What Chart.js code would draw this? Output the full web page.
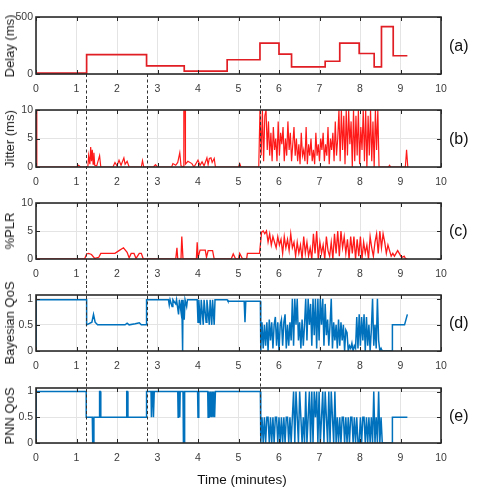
<!DOCTYPE html>
<html><head><meta charset="utf-8">
<script src="https://cdn.jsdelivr.net/npm/chart.js@4.4.1/dist/chart.umd.min.js"></script>
<style>
html,body{margin:0;padding:0;background:#fff;width:478px;height:488px;overflow:hidden;}
#wrap{position:relative;width:478px;height:488px;}
.lab{position:absolute;font-family:"Liberation Sans",Arial,sans-serif;color:#111;white-space:nowrap;}
.ytl{position:absolute;left:10px;font-family:"Liberation Sans",Arial,sans-serif;color:#1a1a1a;white-space:nowrap;font-size:13px;line-height:14px;transform:translate(-50%,-50%) rotate(-90deg);}
</style></head><body><div id="wrap"></div>
<script>
// ---------------- DATA ----------------
const xTicks=[0,1,2,3,4,5,6,7,8,9,10];
const eventTimes=[1.24,2.73,5.54];
const panelLabels=['(a)','(b)','(c)','(d)','(e)'];
const yTitles=['Delay (ms)','Jitter (ms)','%PLR','Bayesian QoS','PNN QoS'];
const xTitle='Time (minutes)';
const delayTicks=[0,500], jitterTicks=[0,5,10], plrTicks=[0,5,10], qosTicks=[0,0.5,1];

// (a) Delay, step values (each holds until next time)
const delayT=[0,1.25,2.73,3.66,4.72,5.53,6.0,6.31,7.14,7.5,7.98,8.35,8.53,8.82,9.17];
const delayV=[8,170,72,25,125,270,175,62,112,270,180,62,415,160,160];

// (b) Jitter
const jitterT=[0,0.02,1.0,1.05,1.1,1.28,1.3,1.33,1.35,1.37,1.39,1.41,1.43,1.45,1.5,1.57,1.6,1.9,1.95,2.0,2.05,2.1,2.17,2.2,2.25,2.3,2.6,2.63,2.66,2.9,2.95,3.0,3.35,3.38,3.45,3.5,3.55,3.58,3.64,3.65,3.68,3.69,3.75,3.85,3.9,4.0,4.05,4.1,4.15,4.22,4.25,4.28,4.32,4.35,4.4,4.43,5.0,5.03,5.06,5.5];
const jitterV=[10,0,0,0.3,0,0,2,0.5,3.5,1,3,0.5,2.5,0.3,0.2,2,0,0,0.8,0.2,1.2,0.3,1.6,0.5,1,0,0,1.1,0,0,0.4,0,0,0.6,0.3,0.8,2.5,0.2,0,10,10,0.5,1,0.6,0,1.2,0.3,0.9,0.2,1.6,0.4,1.5,1.6,0.8,1.5,0,0,0.6,0,0];
const jitterBurstStart=5.53, jitterBurstStep=0.03;
const jitterBurst=[10,2,10,1,9,10,3,
 8,2,6,1,7,3,5,1,8,2,6,4,7,1,5,2,8,3,6,1,4,7,2,
 5,1,4,0.5,6,2,3,1,7,0.5,4,2,5,1,3,0.5,6,2,4,1,5,3,6,1,4,2,7,0.5,5,3,6,1,8,2,5,
 10,1,10,3,9,0.5,10,2,10,4,8,0,10,1,9,2,10,0.5,7,3,10,1,10,0,9,2,10,1,8,0,10,3,10,0];
const jitterTailT=[8.5,8.7,8.73,8.76,9.12,9.15,9.18,9.2];
const jitterTailV=[0,0,0.3,0,0,3,0,0];

// (c) %PLR
const plrT=[0,1.2,1.25,1.3,1.37,1.45,1.55,1.6,1.95,2.05,2.16,2.25,2.3,2.35,2.42,2.47,2.55,2.6,2.65,3.45,3.48,3.5,3.58,3.6,3.63,3.96,3.98,4.0,4.05,4.18,4.21,4.25,4.36,4.4,4.82,4.87,4.93,5.0,5.03,5.1,5.2,5.22,5.52];
const plrV=[0,0,0.9,1,0.8,0.1,0.3,1,1,1.5,2,1.2,0.2,1,1,0.1,1,1,0,0,2,0,0,4,0,0,3,0.2,1.6,1.6,0.3,1.5,1.5,0,0,0.9,0,0,1,0,0,1,1];
const plrBurstStart=5.53, plrBurstStep=0.04;
const plrBurst=[1,4.8,5,4.5,5,
 3,4.5,2.5,4,3,2,4,2.5,3.5,1,4,2,3.5,1.5,4.5,2,3,
 0.5,3,1,2.5,0,4,1,3,0.5,2,0,4.5,1,5,0,3,
 1,2.5,0,4,1.5,0.5,3,0,4.5,1,5,0.5,5,2,4,1,
 3.5,0,4,1,4,0,3.5,0.5,4,0,3,1,2.5,0,4,2,
 0.5,3,4.5,1,5,2,4.5,3,1,2.5,1.5,0.5,1,0.5,1,1.5,
 1,0.5,0.3,0.5,0];
const plrTailT=[9.17], plrTailV=[0];

// (d) Bayesian QoS
const bayesT=[0,0.005,1.25,1.25,1.38,1.42,1.46,1.52,2.2,2.25,2.3,2.45,2.55,2.6,2.73,2.73,3.27,3.29,3.31,3.36,3.38,3.45,3.47,3.52,3.54,3.58,3.6,3.62,3.63,3.66,3.68,3.72,3.74,3.98,4.0,4.02,4.06,4.08,4.13,4.15,4.2,4.22,4.28,4.3,4.34,4.36,4.4,4.42,4.72,4.74,5.14,5.16,5.18,5.54];
const bayesV=[0,0.98,0.98,0.5,0.55,0.7,0.55,0.5,0.5,0.53,0.5,0.52,0.54,0.5,0.5,0.98,0.98,0.88,0.98,0.85,0.98,0.9,0.98,0.7,0.98,0.75,0.98,0,0.98,0.6,0.98,0.85,0.98,0.98,0.55,0.98,0.5,0.98,0.5,0.98,0.55,0.98,0.5,0.98,0.5,0.98,0.5,0.98,0.98,0.95,0.95,0.55,0.95,0.95];
const bayesBurstStart=5.55, bayesBurstStep=0.03;
const bayesBurst=[0,0.55,0.05,0.5,0.1,0.55,0,0.6,0.2,0.55,0.05,0.5,0.65,0.1,0.55,0,0.5,0.6,0.1,0.55,0.7,0.05,0.5,0.1,0.55,0.2,
 1,0.1,1,0.5,1,0.2,
 0.55,0.05,0.6,0.1,0.5,
 1,0.2,1,0.5,0.9,0.1,1,0.3,1,0.05,
 1,0.2,1,0.5,1,0.1,0.9,0.3,
 0.6,0.1,0.5,1,0.05,0.55,0.2,
 0.5,0.05,0.6,0.1,0.55,0.2,0.5,0,0.4,
 0.35,0,0.1,0.05,0.15,0,0.1,0.05,
 0.65,0.05,0.7,0.1,0.65,0.2,0.7,0,0.65,0.1,
 0.5,0,0.4,1,0.1,0.5,0.05,1,0.2,0,0.05,
 0,0,0,0,0,0,0,0];
const bayesTailT=[8.8,8.8,9.1,9.17];
const bayesTailV=[0,0.5,0.5,0.7];

// (e) PNN QoS
const pnnT=[0,0.005,1.24,1.24,1.39,1.4,1.42,1.43,1.56,1.57,1.59,1.6,2.23,2.24,2.26,2.27,2.73,2.73,2.84,2.85,2.87,2.89,2.9,2.92,3.5,3.51,3.52,3.54,3.55,3.56,3.63,3.64,3.66,3.67,3.99,4.0,4.02,4.24,4.25,4.27,4.29,4.31,4.33,4.35,4.37,4.39,4.41,4.43,5.54];
const pnnV=[0,1,1,0.5,0.5,0,0,0.5,0.5,1,1,0.5,0.5,1,1,0.5,0.5,1,1,0.5,1,1,0.5,1,1,0.5,1,1,0.5,1,1,0,0,1,1,0.5,1,1,0.5,1,0.5,1,0.5,1,0.5,1,0.5,1,1];
const pnnBurstStart=5.55, pnnBurstStep=0.03;
const pnnBurst=[0,0.5,0,0.5,0,0.5,0.5,0,0.5,0,0.5,0,0.5,0.5,0,0.5,0,0.5,0,0.5,0,0.5,0.5,0,0.5,0,0.5,
 1,0,1,0.5,0,1,0.5,0,0.5,0,1,0,0.5,1,
 0,1,0,1,0.5,1,0,1,0,0.5,1,0,1,0.5,0,1,0,1,0.5,0,1,0,
 0.5,0,0.5,0,0.5,0.5,0,0.5,0,0.5,0,0.5,0.5,0,0.5,0,0.5,0,0,0.5,0,0.5,0.5,0,0.5,0,0.5,0,0.5,0,
 1,0,0.5,0,1,0,0.5,0,
 0,0,0,0,0,0,0];
const pnnTailT=[8.8,8.8,9.17];
const pnnTailV=[0,0.5,0.5];

// ---------------- BUILD ----------------
function xy(T,V){return T.map((t,i)=>({x:t,y:V[i]}));}
function sampled(t0,dt,V){return V.map((v,i)=>({x:+(t0+i*dt).toFixed(3),y:v}));}

const F='"Liberation Sans Narrow","Liberation Sans",Arial,sans-serif';
const RED='#ff1a1a', BLUE='#0072bd';

const panels=[
 {top:17,bottom:74,ymax:500,yticks:delayTicks,color:'#e01e24',width:1.7,stepped:true,dash:'below',
  data:xy(delayT,delayV)},
 {top:110,bottom:167,ymax:10,yticks:jitterTicks,color:RED,width:1.2,dash:'through',
  data:[...xy(jitterT,jitterV),...sampled(jitterBurstStart,jitterBurstStep,jitterBurst),...xy(jitterTailT,jitterTailV)]},
 {top:203,bottom:259,ymax:10,yticks:plrTicks,color:RED,width:1.3,dash:'through',
  data:[...xy(plrT,plrV),...sampled(plrBurstStart,plrBurstStep,plrBurst),...xy(plrTailT,plrTailV)]},
 {top:295,bottom:351,ymax:1.07,yticks:qosTicks,color:BLUE,width:1.5,dash:'through',
  data:[...xy(bayesT,bayesV),...sampled(bayesBurstStart,bayesBurstStep,bayesBurst),...xy(bayesTailT,bayesTailV)]},
 {top:388,bottom:443,ymax:1.07,yticks:qosTicks,color:BLUE,width:1.5,dash:'above',
  data:[...xy(pnnT,pnnV),...sampled(pnnBurstStart,pnnBurstStep,pnnBurst),...xy(pnnTailT,pnnTailV)]}
];

const framePlugin={id:'frame',afterDatasetsDraw(chart,args,o){
 const {ctx,chartArea:a}=chart; const x=chart.scales.x,y=chart.scales.y;
 ctx.save();
 ctx.strokeStyle='#333'; ctx.lineWidth=1; ctx.setLineDash([3,2.5]);
 let y0,y1;
 if(o.dash==='below'){y0=a.bottom;y1=chart.height;}
 else if(o.dash==='through'){y0=0;y1=chart.height;}
 else {y0=0;y1=a.bottom;}
 eventTimes.forEach(t=>{const px=Math.round(x.getPixelForValue(t))+0.5;ctx.beginPath();ctx.moveTo(px,y0);ctx.lineTo(px,y1);ctx.stroke();});
 ctx.setLineDash([]);
 ctx.strokeStyle='#262626'; ctx.lineWidth=1;
 x.ticks.forEach(tk=>{const px=Math.round(x.getPixelForValue(tk.value))+0.5;ctx.beginPath();ctx.moveTo(px,a.top);ctx.lineTo(px,a.top+4);ctx.moveTo(px,a.bottom);ctx.lineTo(px,a.bottom-4);ctx.stroke();});
 y.ticks.forEach(tk=>{const py=Math.round(y.getPixelForValue(tk.value))+0.5;ctx.beginPath();ctx.moveTo(a.left,py);ctx.lineTo(a.left+4,py);ctx.moveTo(a.right,py);ctx.lineTo(a.right-4,py);ctx.stroke();});
 ctx.lineWidth=1.6; ctx.strokeStyle='#2a2a2a';
 ctx.strokeRect(a.left,a.top,a.right-a.left,a.bottom-a.top);
 ctx.restore();
}};

const wrap=document.getElementById('wrap');
panels.forEach((p,i)=>{
 const cTop=p.top-10;
 const cBot=i<panels.length-1?panels[i+1].top-10:488;
 const h=cBot-cTop;
 const cv=document.createElement('canvas');
 cv.width=478; cv.height=h;
 cv.style.cssText=`position:absolute;left:0;top:${cTop}px;width:478px;height:${h}px;`;
 wrap.appendChild(cv);
 new Chart(cv,{type:'line',
  data:{datasets:[{data:p.data,borderColor:p.color,borderWidth:p.width,pointRadius:0,stepped:!!p.stepped,tension:0,fill:false}]},
  options:{responsive:false,animation:false,devicePixelRatio:1,parsing:true,
   layout:{padding:{left:0,right:37,top:10,bottom:0}},
   plugins:{legend:{display:false},tooltip:{enabled:false},frame:{dash:p.dash}},
   scales:{
    x:{type:'linear',min:0,max:10,
      afterBuildTicks:s=>{s.ticks=xTicks.map(v=>({value:v}));},
      afterFit:s=>{s.height=h-10-(p.bottom-p.top);},
      grid:{color:'#e4e4e4',drawTicks:false},border:{display:false},
      ticks:{padding:9,color:'#3a3a3a',font:{family:F,size:10.5},maxRotation:0,autoSkip:false,callback:v=>String(v)}},
    y:{type:'linear',min:0,max:p.ymax,
      afterBuildTicks:s=>{s.ticks=p.yticks.map(v=>({value:v}));},
      afterFit:s=>{s.width=36;},
      grid:{color:'#e4e4e4',drawTicks:false},border:{display:false},
      ticks:{padding:3,color:'#3a3a3a',font:{family:F,size:10.5},callback:v=>String(v)},
      title:{display:false}}
   }},
  plugins:[framePlugin]});
 const yt=document.createElement('div');
 yt.className='ytl'; yt.textContent=yTitles[i];
 yt.style.top=((p.top+p.bottom)/2)+'px';
 wrap.appendChild(yt);
 const lab=document.createElement('div');
 lab.className='lab'; lab.textContent=panelLabels[i];
 lab.style.cssText+=`left:449px;top:${(p.top+p.bottom)/2-10}px;font-size:16px;line-height:20px;`;
 wrap.appendChild(lab);
});
const xl=document.createElement('div');
xl.className='lab'; xl.textContent=xTitle;
xl.style.cssText+='left:0;width:478px;text-align:center;top:472px;font-size:13.5px;line-height:16px;padding-left:6px;box-sizing:border-box;';
wrap.appendChild(xl);
</script></body></html>
